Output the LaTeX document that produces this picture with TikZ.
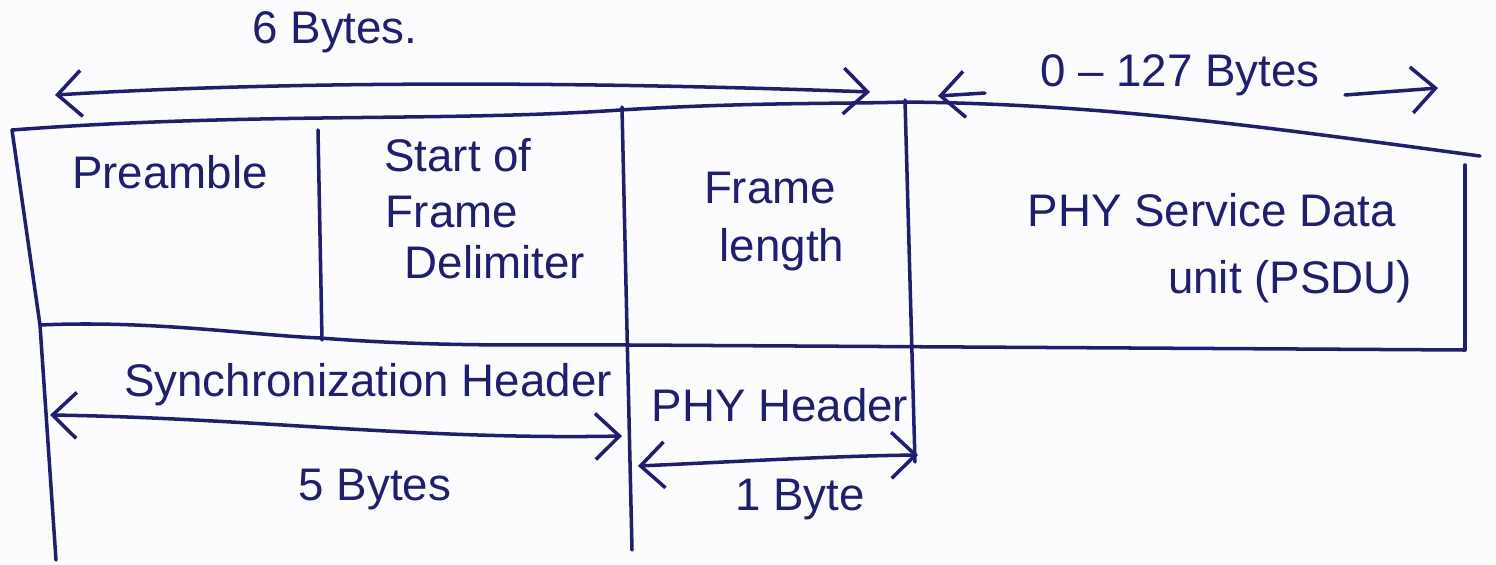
\documentclass[tikz,border=0pt]{standalone}
\usepackage{fontspec}
\setmainfont{Liberation Sans}
\usetikzlibrary{arrows.meta}
\definecolor{inkc}{HTML}{1F1F6E}
\definecolor{paper}{HTML}{FCFBFE}
\tikzset{
  ink/.style={draw=inkc, line width=1pt, line cap=round, line join=round},
  barb/.tip={Straight Barb[length=2.4mm,width=4.6mm,line width=1pt]},
  dimarrow/.style={ink, barb-barb},
  lbl/.style={text=inkc, inner sep=0pt, font=\fontsize{13}{16}\selectfont},
}
\begin{document}
\begin{tikzpicture}[x=0.1mm,y=-0.1mm]
  \fill[paper] (0,0) rectangle (1496,565);
  \useasboundingbox (0,0) rectangle (1496,565);

  % frame outline corners
  \coordinate (tl) at (12,130);
  \coordinate (tm) at (905,102);
  \coordinate (tr) at (1480,156);
  \coordinate (bl) at (40,325);
  \coordinate (br) at (1465,350);

  % top edge
  \draw[ink] (tl) .. controls (250,112) and (450,122) .. (620,110)
             .. controls (750,102) and (850,104) .. (tm);
  \draw[ink] (tm) .. controls (1100,104) and (1250,125) .. (tr);
  % left edge, continuing down past the header row
  \draw[ink] (tl) -- (bl) -- (56,560);
  % bottom edge
  \draw[ink] (bl) .. controls (150,320) and (250,335) .. (320,338)
             .. controls (450,348) and (550,344) .. (630,345)
             -- (br);
  % field dividers
  \draw[ink] (318,130) -- (322,340);
  \draw[ink] (622,107) -- (627,330) -- (632,550);
  \draw[ink] (905,100) -- (915,462);
  \draw[ink] (1465,165) -- (br);

  % field labels
  \node[lbl] (pre) at (170,172) {Preamble};
  \node[lbl] (sfdA) at (458,155) {Start of};
  \node[lbl] (sfdB) at (452,212) {Frame};
  \node[lbl] (sfdC) at (495,262) {Delimiter};
  \node[lbl] (flA) at (770,188) {Frame};
  \node[lbl] (flB) at (782,250) {length};
  \node[lbl] (psduA) at (1212,210) {PHY Service Data};
  \node[lbl] (psduB) at (1290,282) {unit (PSDU)};

  % 6 bytes span
  \node[lbl] (six) at (335,32) {6 Bytes.};
  \coordinate (sixL) at (55,95);
  \coordinate (sixR) at (870,92);
  \draw[dimarrow] (sixL) .. controls (300,80) and (600,82) .. (sixR);

  % 0-127 bytes span
  \node[lbl] (psdulen) at (1180,75) {0 -- 127 Bytes};
  \coordinate (pAa) at (985,93);
  \coordinate (pAb) at (938,96);
  \coordinate (pBa) at (1345,95);
  \coordinate (pBb) at (1438,88);
  \draw[ink, -barb] (pAa) -- (pAb);
  \draw[ink, -barb] (pBa) -- (pBb);

  % synchronization header span
  \node[lbl] (shr) at (368,385) {Synchronization Header};
  \coordinate (shrL) at (50,415);
  \coordinate (shrR) at (622,436);
  \draw[dimarrow] (shrL) .. controls (250,418) and (420,440) .. (shrR);
  \node[lbl] (five) at (375,490) {5 Bytes};

  % PHY header span
  \node[lbl] (phr) at (780,405) {PHY Header};
  \coordinate (phrL) at (638,466);
  \coordinate (phrR) at (918,455);
  \draw[dimarrow] (phrL) .. controls (730,462) and (830,456) .. (phrR);
  \node[lbl] (one) at (800,500) {1 Byte};
\end{tikzpicture}
\end{document}
